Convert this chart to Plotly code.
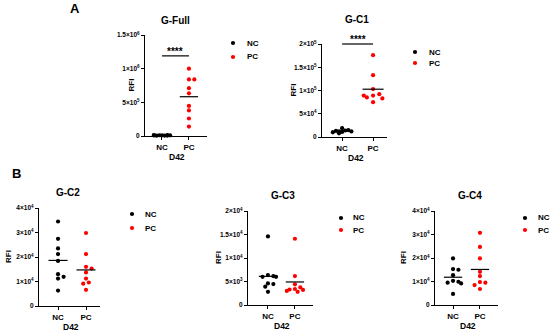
import math
import plotly.graph_objects as go

W, H = 550, 335

groups = ["NC", "PC"]
panel_titles = ["G-Full", "G-C1", "G-C2", "G-C3", "G-C4"]

full_nc = [8000, 12000, 5000, 15000, 10000, 6000, 11000, 9000, 7000]
full_pc = [1000000, 840000, 840000, 710000, 634000, 446000, 380000, 260000, 140000]
c1_nc = [19000, 15000, 13000, 12000, 11000, 10000, 14000, 8000, 12000]
c1_pc = [176000, 133000, 103000, 89000, 92000, 85000, 83000, 89000, 75000]
c2_nc = [34500, 27400, 23500, 21200, 18400, 13000, 11900, 11200, 6300]
c2_pc = [29800, 21200, 16000, 15300, 13700, 11200, 9600, 9100, 6600]
c3_nc = [14600, 6360, 6150, 6000, 6000, 4600, 4450, 3900, 2800]
c3_pc = [14100, 6150, 4400, 3750, 3400, 3300, 3200, 2800, 3000]
c4_nc = [19800, 15300, 15000, 12700, 10300, 9900, 9500, 9200, 4700]
c4_pc = [30700, 24700, 19800, 14100, 12300, 9750, 9500, 8500, 6800]

ytick_vals = [
    [0, 500000, 1000000, 1500000],
    [0, 50000, 100000, 150000, 200000],
    [0, 10000, 20000, 30000, 40000],
    [0, 5000, 10000, 15000, 20000],
    [0, 10000, 20000, 30000, 40000],
]
ytick_text = [
    ["0", "5×10<sup>5</sup>", "1×10<sup>6</sup>", "1.5×10<sup>6</sup>"],
    ["0", "5×10<sup>4</sup>", "1×10<sup>5</sup>", "1.5×10<sup>5</sup>", "2×10<sup>5</sup>"],
    ["0", "1×10<sup>4</sup>", "2×10<sup>4</sup>", "3×10<sup>4</sup>", "4×10<sup>4</sup>"],
    ["0", "5×10<sup>3</sup>", "1×10<sup>4</sup>", "1.5×10<sup>4</sup>", "2×10<sup>4</sup>"],
    ["0", "1×10<sup>4</sup>", "2×10<sup>4</sup>", "3×10<sup>4</sup>", "4×10<sup>4</sup>"],
]
data = [(full_nc, full_pc), (c1_nc, c1_pc), (c2_nc, c2_pc), (c3_nc, c3_pc), (c4_nc, c4_pc)]

# pixel boxes of each plot area: left, right, top, bottom, x-range
boxes = [
    (145, 207, 35, 136, (-0.63, 1.67)),
    (322, 387, 44, 137, (-0.65, 1.45)),
    (39, 100, 208, 306, (-0.68, 1.5)),
    (248, 313, 211, 305, (-0.74, 1.67)),
    (435, 498, 211, 305, (-0.67, 1.67)),
]
legend_pos = [(233, 245, 43, 57), (415, 427, 52, 63), (132, 143, 214, 228),
              (341, 351, 218, 230), (525, 536, 218, 230)]
title_pos = [(175, 21), (357, 20), (68, 193), (283, 195), (470, 195)]
rfi_x = [131, 293, 8, 218, 403]

FONT = "Arial, Liberation Sans, sans-serif"
colors = ["black", "#ff0000"]


def swarm(vals, ytop, hpx, px_per_unit, d=4.2, step=0.1):
    placed, xs = [], []
    for v in vals:
        ypx = v / ytop * hpx
        best, bestd = 0, -1
        for k in [0, 1, -1, 2, -2, 3, -3]:
            xpx = k * step * px_per_unit
            md = min([math.hypot(xpx - a, ypx - b) for a, b in placed], default=1e9)
            if md >= d:
                best = k * step
                break
            if md > bestd:
                best, bestd = k * step, md
        placed.append((best * px_per_unit, ypx))
        xs.append(best)
    return xs


def px(x):
    return x / W


def py(y):
    return 1 - y / H


def label(x, y, text, size, anchor="center", **kw):
    return dict(x=px(x), y=py(y), xref="paper", yref="paper", text=text, showarrow=False,
                xanchor=anchor, yanchor="middle",
                font=dict(family=FONT, size=size, color="black", weight="bold"), **kw)


fig = go.Figure()
annotations = []
shapes = []

for i, (l, r, t, b, xr) in enumerate(boxes):
    n = "" if i == 0 else str(i + 1)
    ytop = ytick_vals[i][-1]
    ppu = (r - l) / (xr[1] - xr[0])
    for g, vals in enumerate(data[i]):
        offs = swarm(vals, ytop, b - t, ppu)
        fig.add_trace(go.Scatter(
            x=[g + o for o in offs], y=vals, mode="markers", xaxis="x" + n, yaxis="y" + n,
            marker=dict(color=colors[g], size=4.2), cliponaxis=False, showlegend=False,
            hoverinfo="skip"))
        m = sum(vals) / len(vals)
        fig.add_trace(go.Scatter(
            x=[g - 0.34, g + 0.34], y=[m, m], mode="lines", xaxis="x" + n, yaxis="y" + n,
            line=dict(color="black", width=1.2), showlegend=False, hoverinfo="skip"))
    fig.layout["xaxis" + n] = dict(
        domain=[px(l), px(r)], range=list(xr), tickvals=[0, 1], ticktext=groups,
        showline=True, linecolor="black", linewidth=1.3, ticks="outside", ticklen=3,
        tickwidth=1.2, tickcolor="black", showgrid=False, zeroline=False, automargin=False,
        anchor="y" + n, tickfont=dict(family=FONT, size=8, color="black", weight="bold"))
    fig.layout["yaxis" + n] = dict(
        domain=[py(b), py(t)], range=[0, ytop], tickvals=ytick_vals[i], ticktext=ytick_text[i],
        showline=True, linecolor="black", linewidth=1.3, ticks="outside", ticklen=3,
        tickwidth=1.2, tickcolor="black", showgrid=False, zeroline=False, automargin=False,
        anchor="x" + n, tickfont=dict(family=FONT, size=6.5, color="black", weight="bold"))
    # title, axis labels
    tx, ty = title_pos[i]
    annotations.append(label(tx, ty, panel_titles[i], 10))
    annotations.append(label((l + r) / 2 + 1, b + 21, "D42", 8.5))
    annotations.append(label(rfi_x[i], (t + b) / 2, "RFI", 8, textangle=-90))
    # legend
    dx, tx2, y1, y2 = legend_pos[i]
    for g, yy in enumerate([y1, y2]):
        shapes.append(dict(type="circle", xref="paper", yref="paper",
                           x0=px(dx - 2.1), x1=px(dx + 2.1), y0=py(yy + 2.1), y1=py(yy - 2.1),
                           fillcolor=colors[g], line=dict(width=0)))
        annotations.append(label(tx2, yy, groups[g], 8, anchor="left"))

# significance bars
for i, ybar in [(0, 1190000), (1, 200000)]:
    n = "" if i == 0 else str(i + 1)
    ytop = ytick_vals[i][-1]
    shapes.append(dict(type="line", xref="x" + n, yref="y" + n + " domain", x0=0, x1=1,
                       y0=ybar / ytop, y1=ybar / ytop, line=dict(color="black", width=1.2)))
    annotations.append(dict(x=0.5, y=ybar / ytop, xref="x" + n, yref="y" + n + " domain",
                            text="****", showarrow=False, xanchor="center", yanchor="bottom", yshift=-3,
                            font=dict(family=FONT, size=10, color="black", weight="bold")))

annotations.append(label(75, 9, "A", 13))
annotations.append(label(16, 173, "B", 13))

fig.update_layout(width=W, height=H, margin=dict(l=0, r=0, t=0, b=0),
                  plot_bgcolor="white", paper_bgcolor="white",
                  annotations=annotations, shapes=shapes, showlegend=False)
fig.write_html("out.html", config={"displayModeBar": False},
               post_script="document.body.style.margin='0';")
